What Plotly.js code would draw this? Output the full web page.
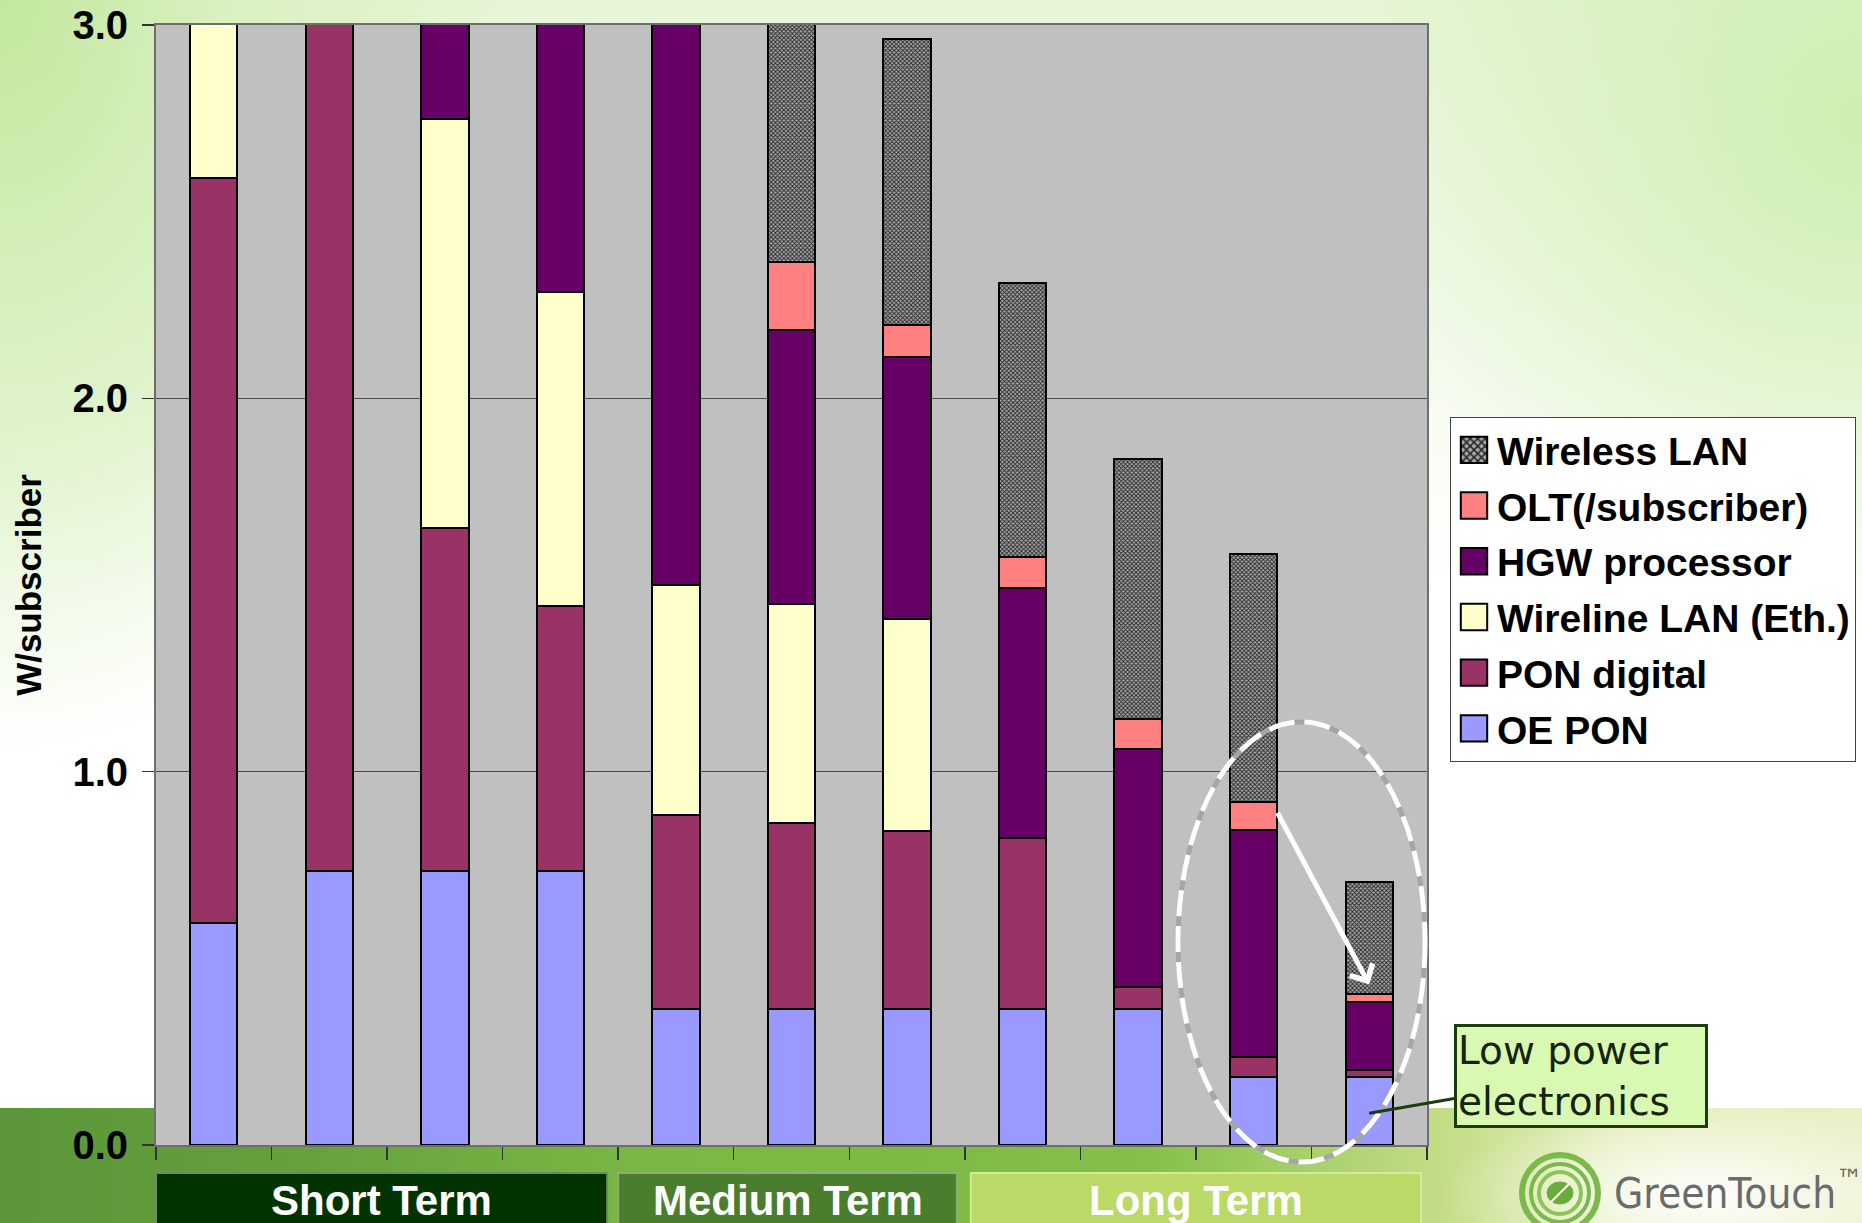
<!DOCTYPE html>
<html>
<head>
<meta charset="utf-8">
<script src="https://cdn.plot.ly/plotly-3.0.1.min.js"></script>
<style>
  html, body { margin: 0; padding: 0; }
  body {
    width: 1862px; height: 1223px; overflow: hidden;
    background:
      radial-gradient(ellipse 260px 95px at 1700px 1195px, rgba(255,255,255,0.97), rgba(255,255,255,0) 100%),
      linear-gradient(to right, #5b963a 0px, #64a13c 300px, #79b844 650px, #7cba45 900px, #86c04b 1150px, #c3dd86 1440px, #e3edb8 1620px, #e9f0c6 1862px) 0 1108px / 1862px 115px no-repeat,
      radial-gradient(ellipse 520px 760px at 0px 0px, #c2e79d 0%, #d9f1c1 45%, rgba(255,255,255,0) 100%),
      radial-gradient(ellipse 520px 520px at 1862px 120px, #cdeeb0 0%, rgba(255,255,255,0) 100%),
      linear-gradient(to bottom, #e6f5d6 0px, #ffffff 600px);
  }
  #chart { width: 1862px; height: 1223px; }
</style>
</head>
<body>
<div id="chart"></div>
<script>
// ---- data (W/subscriber) ----
const categories   = ['S1','S2','S3','S4','M1','M2','M3','L1','L2','L3','L4'];
const oePon        = [0.594,0.733,0.733,0.733,0.365,0.365,0.365,0.365,0.365,0.182,0.182];
const ponDigital   = [1.996,2.500,0.921,0.711,0.518,0.498,0.476,0.457,0.057,0.055,0.018];
const wirelineLan  = [0.800,0.800,1.095,0.842,0.616,0.587,0.569,0,0,0,0];
const hgwProcessor = [0.900,0.900,0.700,1.000,1.600,0.734,0.701,0.670,0.638,0.607,0.182];
const oltPerSub    = [0.150,0.150,0.150,0.150,0.180,0.181,0.086,0.083,0.080,0.074,0.022];
const wirelessLan  = [0.700,0.700,0.700,0.700,0.750,0.760,0.765,0.733,0.698,0.665,0.300];

const seriesNames  = ['OE PON','PON digital','Wireline LAN (Eth.)','HGW processor','OLT(/subscriber)','Wireless LAN'];
const seriesValues = [oePon, ponDigital, wirelineLan, hgwProcessor, oltPerSub, wirelessLan];
const seriesColors = ['#9999FF','#993366','#FFFFCC','#660066','#FF8080','#8a8a8a'];

const termLabels = ['Short Term','Medium Term','Long Term'];
const termFirst  = [0, 4, 7];   // first category index of each term
const termLast   = [3, 6, 10];  // last category index of each term
const termFill   = ['#003300','#4a7d2e','#bad966'];
const termBorder = ['#6f8c60','#8eae78','#d3ea98'];

// ---- layout geometry ----
const W = 1862, H = 1223;
const M = {l: 156, r: 435, t: 25, b: 78};
const plotW = W - M.l - M.r, plotH = H - M.t - M.b;
const px2paperX = px => (px - M.l) / plotW;
const px2paperY = py => (H - M.b - py) / plotH;
const nCat = categories.length;

const traces = seriesNames.map((name, i) => {
  const t = {
    type: 'bar',
    name: name,
    x: categories,
    y: seriesValues[i],
    width: 0.41,
    legendgroup: 'g' + i,
    legendrank: seriesNames.length - i,   // top of stack listed first
    marker: {color: seriesColors[i], line: {color: '#000000', width: 2}},
    hoverinfo: 'name+y'
  };
  if (name === 'Wireless LAN') {
    t.marker.pattern = {shape: 'x', size: 3, solidity: 0.5, fgcolor: '#262626', bgcolor: '#a8a8a8', fillmode: 'replace'};
  }
  return t;
});

const shapes = [];
const annotations = [];

// term boxes below axis
const gapL = [0, 0, 6], gapR = [11, 8, 6];
termLabels.forEach((lab, i) => {
  const x0 = termFirst[i] / nCat + gapL[i] / plotW;
  const x1 = (termLast[i] + 1) / nCat - gapR[i] / plotW;
  shapes.push({type: 'rect', xref: 'paper', yref: 'paper', x0: x0, x1: x1,
    y0: px2paperY(1173), y1: px2paperY(1240), fillcolor: termFill[i],
    line: {color: termBorder[i], width: 2}, layer: 'above'});
  annotations.push({xref: 'paper', yref: 'paper', x: (x0 + x1) / 2, y: px2paperY(1200),
    text: lab, showarrow: false, xanchor: 'center', yanchor: 'middle',
    font: {family: 'Liberation Sans, Arial, sans-serif', size: 42, color: '#ffffff', weight: 'bold'}});
});

// dashed ellipse around the last two bars
const ell = {x0: px2paperX(1178), x1: px2paperX(1425), y0: px2paperY(1162), y1: px2paperY(722)};
shapes.push(Object.assign({type: 'circle', xref: 'paper', yref: 'paper', line: {color: '#a6a6a6', width: 5}, layer: 'above'}, ell));
shapes.push(Object.assign({type: 'circle', xref: 'paper', yref: 'paper', line: {color: '#ffffff', width: 5, dash: '26px,10px'}, layer: 'above'}, ell));

// GreenTouch logo
const lgx = px2paperX(1560), lgy = px2paperY(1193);
[[38, 6, '#7cb94c'], [29, 4, '#7cb94c'], [21, 4, '#8cc45a']].forEach(r => {
  shapes.push({type: 'circle', xref: 'paper', yref: 'paper', xsizemode: 'pixel', ysizemode: 'pixel',
    xanchor: lgx, yanchor: lgy, x0: -r[0], x1: r[0], y0: -r[0], y1: r[0],
    line: {color: r[2], width: r[1]}, fillcolor: 'rgba(0,0,0,0)', layer: 'above'});
});
shapes.push({type: 'circle', xref: 'paper', yref: 'paper', xsizemode: 'pixel', ysizemode: 'pixel',
  xanchor: lgx, yanchor: lgy, x0: -13, x1: 13, y0: -11, y1: 11,
  line: {color: '#6aab3e', width: 1}, fillcolor: '#6aab3e', layer: 'above'});
shapes.push({type: 'line', xref: 'paper', yref: 'paper', xsizemode: 'pixel', ysizemode: 'pixel',
  xanchor: lgx, yanchor: lgy, x0: -9, x1: 9, y0: -9, y1: 9,
  line: {color: '#ffffff', width: 2}, layer: 'above'});
annotations.push({xref: 'paper', yref: 'paper', x: px2paperX(1612), y: px2paperY(1190),
  text: 'GreenTouch<sup>™</sup>', showarrow: false, xanchor: 'left', yanchor: 'middle',
  font: {family: 'Liberation Sans Narrow, DejaVu Sans Condensed, sans-serif', size: 42, color: '#6b6b6b'}});

// white arrow from bar 10 to bar 11
annotations.push({x: categories[10], y: 0.43, xref: 'x', yref: 'y',
  ax: 9.18, ay: 0.905, axref: 'x', ayref: 'y', text: ' ', showarrow: true,
  arrowhead: 4, arrowsize: 1, arrowwidth: 5, arrowcolor: '#ffffff', standoff: 0});

// callout
annotations.push({x: categories[10], y: 0.085, xref: 'x', yref: 'y',
  ax: 212, ay: -37, text: 'Low power<br>electronics', align: 'left', showarrow: true,
  width: 246,
  arrowhead: 0, arrowwidth: 3, arrowcolor: '#1b3d0c',
  bgcolor: '#d9f8b2', bordercolor: '#1b3d0c', borderwidth: 3, borderpad: 1,
  font: {family: 'DejaVu Sans, Verdana, sans-serif', size: 39, color: '#15240c'}});

const layout = {
  width: W, height: H,
  margin: Object.assign({autoexpand: false, pad: 0}, M),
  paper_bgcolor: 'rgba(0,0,0,0)',
  plot_bgcolor: '#c0c0c0',
  barmode: 'stack',
  showlegend: true,
  legend: {
    x: px2paperX(1450), y: px2paperY(417), xanchor: 'left', yanchor: 'top',
    bgcolor: '#ffffff', bordercolor: '#444444', borderwidth: 1,
    traceorder: 'grouped', tracegroupgap: 2, itemwidth: 36,
    font: {family: 'Liberation Sans, Arial, sans-serif', size: 39, color: '#000000', weight: 'bold'}
  },
  xaxis: {
    type: 'category', range: [-0.5, 10.5], showticklabels: false,
    ticks: 'outside', tickson: 'boundaries', ticklen: 13, tickwidth: 1.5, tickcolor: '#333333',
    showgrid: false, showline: true, linecolor: '#6e6e6e', linewidth: 2, mirror: true, zeroline: false
  },
  yaxis: {
    range: [0, 3], dtick: 1, tickformat: '.1f',
    ticks: 'outside', ticklen: 12, tickwidth: 1.5, tickcolor: '#333333', ticklabelstandoff: 6,
    showgrid: true, gridcolor: '#4a4a4a', gridwidth: 1,
    showline: true, linecolor: '#6e6e6e', linewidth: 2, mirror: true, zeroline: false,
    tickfont: {family: 'Liberation Sans, Arial, sans-serif', size: 40, color: '#000000', weight: 'bold'},
    title: {text: 'W/subscriber', standoff: 20,
      font: {family: 'Liberation Sans, Arial, sans-serif', size: 35, color: '#000000', weight: 'bold'}}
  },
  shapes: shapes,
  annotations: annotations
};

Plotly.newPlot('chart', traces, layout, {displayModeBar: false, staticPlot: true}).then(gd => {
  // enlarge the legend swatches to the size used in the original slide
  gd.querySelectorAll('.legend .legendpoints path').forEach(p => {
    const tr = p.getAttribute('transform') || '';
    p.setAttribute('transform', tr + ' scale(2.2)');
    p.style.vectorEffect = 'non-scaling-stroke';
    p.style.strokeWidth = '2px';
    p.style.stroke = '#000000';
  });
});
</script>
</body>
</html>
